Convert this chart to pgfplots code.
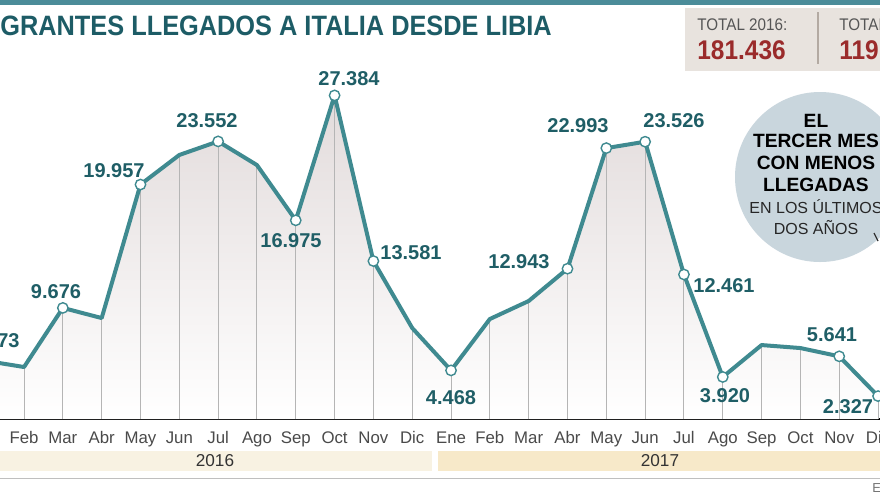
\documentclass[border=0pt]{standalone}
\usepackage{pgfplots}
\usepackage{pgfplotstable}
\pgfplotsset{compat=1.18}
\usepackage{fontspec}
\setmainfont{Liberation Sans}
\newfontfamily\condfont[FakeStretch=0.905]{Liberation Sans}
\definecolor{topbar}{HTML}{4B8C99}
\definecolor{titlec}{HTML}{1D5C66}
\definecolor{linec}{HTML}{3F8A90}
\definecolor{labc}{HTML}{1F5E66}
\definecolor{vgray}{HTML}{B5B5B5}
\definecolor{areac}{HTML}{E2DBDB}
\definecolor{monthc}{HTML}{4A4A4A}
\definecolor{bandA}{HTML}{F8F2E2}
\definecolor{bandB}{HTML}{F7E9C9}
\definecolor{circc}{HTML}{C9D6DD}
\definecolor{boxc}{HTML}{E8E3DE}
\definecolor{sepc}{HTML}{B3AAA2}
\definecolor{totgray}{HTML}{555555}
\definecolor{totred}{HTML}{9A2B2B}

\pgfplotstableread{
i v
0 5273
1 4750
2 9676
3 8830
4 19957
5 22420
6 23552
7 21580
8 16975
9 27384
10 13581
11 8000
12 4468
13 8750
14 10250
15 12943
16 22993
17 23526
18 12461
19 3920
20 6580
21 6330
22 5641
23 2327
}\datatable

\pgfplotstableread{
i v
0 5273
2 9676
4 19957
6 23552
8 16975
9 27384
10 13581
12 4468
15 12943
16 22993
17 23526
18 12461
19 3920
22 5641
23 2327
}\marktable

\begin{document}
\begin{tikzpicture}
\useasboundingbox (0,0) rectangle (440pt,-247.5pt);
\clip (0,0) rectangle (440pt,-247.5pt);
\begin{scope}[x=0.5pt,y=-0.5pt]
  \fill[white] (0,0) rectangle (880,495);
  \fill[topbar] (0,0) rectangle (880,5);
  \node[anchor=base west, inner sep=0, font=\condfont\bfseries\fontsize{14}{16}\selectfont, text=titlec] at (0,35) {GRANTES LLEGADOS A ITALIA DESDE LIBIA};
  % totals box
  \fill[boxc] (685,8) rectangle (880,71);
  \draw[sepc, line width=0.6pt] (818,12) -- (818,64);
  \node[anchor=base west, inner sep=0, font=\condfont\fontsize{8.4}{10}\selectfont, text=totgray] at (697,30) {TOTAL 2016:};
  \node[anchor=base west, inner sep=0, font=\condfont\bfseries\fontsize{13.5}{15}\selectfont, text=totred] at (697,59) {181.436};
  \node[anchor=base west, inner sep=0, font=\condfont\fontsize{8.4}{10}\selectfont, text=totgray] at (839,30) {TOTAL 2017:};
  \node[anchor=base west, inner sep=0, font=\condfont\bfseries\fontsize{13.5}{15}\selectfont, text=totred] at (839,59) {119.310};
  % year bands
  \fill[bandA] (0,451) rectangle (432,471);
  \fill[bandB] (438,451) rectangle (880,471);
  \node[anchor=base, inner sep=0, font=\fontsize{8.6}{10}\selectfont, text=black!80] at (215,466) {2016};
  \node[anchor=base, inner sep=0, font=\fontsize{8.6}{10}\selectfont, text=black!80] at (660,466) {2017};
  \draw[black!25, line width=0.5pt] (0,478) -- (880,478);
  \node[anchor=base west, inner sep=0, font=\fontsize{6.5}{8}\selectfont, text=black!55] at (872,492) {EL PERI\'ODICO};
\end{scope}

\begin{axis}[
  at={(0pt,-209.5pt)}, anchor=south west,
  scale only axis, width=440pt, height=209.5pt,
  xmin=0.381, xmax=23.05, ymin=417, ymax=35334,
  axis x line*=bottom, axis y line=none,
  x axis line style={black, line width=1pt, -},
  xtick={1,...,23},
  xticklabels={Feb,Mar,Abr,May,Jun,Jul,Ago,Sep,Oct,Nov,Dic,Ene,Feb,Mar,Abr,May,Jun,Jul,Ago,Sep,Oct,Nov,Dic},
  major tick length=0pt,
  xticklabel style={font=\fontsize{8.4}{10}\selectfont, text=monthc, anchor=base, yshift=-12pt},
  clip=true,
]
  \addplot[draw=none, top color=areac, bottom color=white] table[x=i,y=v] {\datatable} \closedcycle;
  \addplot[ycomb, draw=vgray, line width=0.5pt] table[x=i,y=v] {\datatable};
  \addplot[linec, line width=2pt, line join=round, mark=none] table[x=i,y=v] {\datatable};
  \addplot[only marks, mark=*, mark size=2.6pt, mark options={fill=white, draw=linec, line width=0.7pt}] table[x=i,y=v] {\marktable};
\end{axis}

\begin{scope}[x=0.5pt,y=-0.5pt]
  % data labels
  \tikzset{lab/.style={inner sep=0, font=\bfseries\fontsize{10}{12}\selectfont, text=labc}}
  \node[lab, anchor=east] at (20,341) {5.273};
  \node[lab] at (56,292) {9.676};
  \node[lab] at (114,171) {19.957};
  \node[lab] at (207,121) {23.552};
  \node[lab] at (291,241) {16.975};
  \node[lab] at (349,79) {27.384};
  \node[lab] at (411,253) {13.581};
  \node[lab] at (451,398) {4.468};
  \node[lab] at (519,262) {12.943};
  \node[lab] at (578,126) {22.993};
  \node[lab] at (674,121) {23.526};
  \node[lab] at (724,286) {12.461};
  \node[lab] at (725,396) {3.920};
  \node[lab] at (832,335) {5.641};
  \node[lab] at (848,407) {2.327};
  % circle note
  \fill[circc] (820,177) circle (42.5pt);
  \node[anchor=base, inner sep=0, font=\bfseries\fontsize{9.6}{11}\selectfont] at (816,127) {EL};
  \node[anchor=base, inner sep=0, font=\bfseries\fontsize{9.6}{11}\selectfont] at (816,147) {TERCER MES};
  \node[anchor=base, inner sep=0, font=\bfseries\fontsize{9.6}{11}\selectfont] at (816,169) {CON MENOS};
  \node[anchor=base, inner sep=0, font=\bfseries\fontsize{9.6}{11}\selectfont] at (816,191) {LLEGADAS};
  \node[anchor=base, inner sep=0, font=\fontsize{8}{10}\selectfont, text=black!85] at (816,213) {EN LOS \'ULTIMOS};
  \node[anchor=base, inner sep=0, font=\fontsize{8}{10}\selectfont, text=black!85] at (816,234) {DOS A\~NOS};
  \draw[black!80, line width=0.6pt] (874,233) -- (878,241);
\end{scope}
\end{tikzpicture}
\end{document}
